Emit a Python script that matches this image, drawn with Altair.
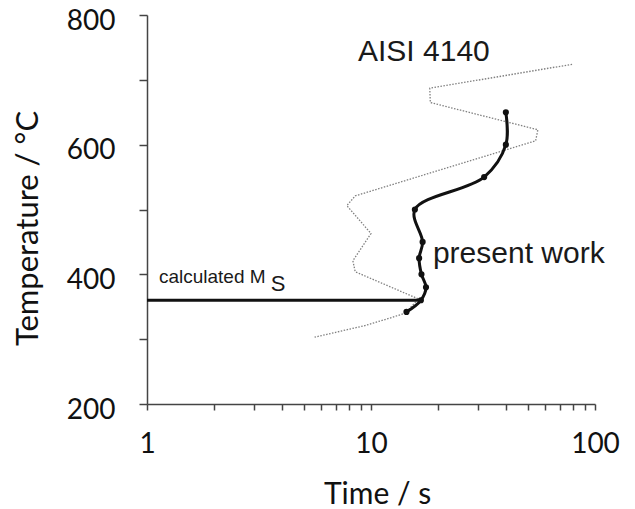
import altair as alt
import pandas as pd

# ---- data ----
pw_time = [40, 40, 32, 15.7, 17, 16.4, 16.8, 17.6, 16.7, 14.4]
pw_temp = [650, 600, 550, 500, 450, 425, 400, 380, 360, 342]

aisi_time = [79, 18.3, 18.4, 55.6, 54.3, 8.5, 7.8, 10.0, 8.3, 8.5, 16.3, 14.2, 12.0, 9.4, 5.6]
aisi_temp = [724, 687, 665, 623, 606, 521, 506, 463, 421, 404, 362, 340, 332, 321, 303]

ms_temp = 360
ms_time = [1, 16.7]

x_ticks = [1, 2, 3, 4, 5, 6, 7, 8, 9, 10, 20, 30, 40, 50, 60, 70, 80, 90, 100]
y_ticks = [200, 300, 400, 500, 600, 700, 800]

ann_text = ["AISI 4140", "present work", "calculated M", "S"]
ann_time = [8.75, 18.9, 1.13, 3.57]
ann_temp = [729, 418, 386, 374]
ann_size = [30, 30, 19, 22]

pw = pd.DataFrame({"time": pw_time, "temp": pw_temp, "i": list(range(len(pw_time)))})
aisi = pd.DataFrame({"time": aisi_time, "temp": aisi_temp, "i": list(range(len(aisi_time)))})
ms = pd.DataFrame({"t1": [ms_time[0]], "t2": [ms_time[1]], "temp": [ms_temp]})
ann = pd.DataFrame({"label": ann_text, "time": ann_time, "temp": ann_temp, "size": ann_size})

xs = alt.Scale(type="log", domain=[1, 100])
ys = alt.Scale(domain=[200, 800], nice=False, zero=False)

axis_font = "Lato"
xaxis = alt.Axis(
    values=x_ticks,
    labelExpr="(datum.value == 1 || datum.value == 10 || datum.value == 100) ? datum.value : ''",
    title="Time / s", titleX=230, titleY=99, titleAlign="center", titleBaseline="alphabetic",
    tickSize=6, labelPadding=20, labelFontSize=28, titleFontSize=30,
    labelFont=axis_font, titleFont=axis_font, labelColor="#111", titleColor="#111",
    titleFontWeight="normal", domainColor="#444", tickColor="#444", domainWidth=1.5, tickWidth=1.5,
    grid=False, labelFlush=False, labelOverlap=False,
)
yaxis = alt.Axis(
    values=y_ticks,
    labelExpr="datum.value % 200 == 0 ? datum.value : ''",
    title="Temperature / °C", titleX=-110, titleY=213, titleAngle=270, titleAlign="center",
    titleBaseline="alphabetic",
    tickSize=8, labelPadding=24, labelFontSize=28, titleFontSize=31,
    labelBaseline="alphabetic", labelOffset=14,
    labelFont=axis_font, titleFont=axis_font, labelColor="#111", titleColor="#111",
    titleFontWeight="normal", domainColor="#444", tickColor="#444", domainWidth=1.5, tickWidth=1.5,
    grid=False, labelFlush=False, labelOverlap=False,
)

aisi_line = alt.Chart(aisi).mark_line(
    color="#808080", strokeWidth=1.3, strokeDash=[1.5, 1.5]
).encode(
    x=alt.X("time:Q", scale=xs, axis=xaxis),
    y=alt.Y("temp:Q", scale=ys, axis=yaxis),
    order="i:Q",
)

ms_rule = alt.Chart(ms).mark_rule(color="#111", strokeWidth=3).encode(
    x=alt.X("t1:Q", scale=xs),
    x2="t2:Q",
    y=alt.Y("temp:Q", scale=ys),
)

pw_line = alt.Chart(pw).mark_line(
    color="#111", strokeWidth=3, interpolate="catmull-rom"
).encode(
    x=alt.X("time:Q", scale=xs),
    y=alt.Y("temp:Q", scale=ys),
    order="i:Q",
)

pw_pts = alt.Chart(pw).mark_circle(color="#111", opacity=1, size=38).encode(
    x=alt.X("time:Q", scale=xs),
    y=alt.Y("temp:Q", scale=ys),
)

texts = alt.Chart(ann).mark_text(
    align="left", baseline="alphabetic", font="Liberation Sans", color="#1a1a1a"
).encode(
    x=alt.X("time:Q", scale=xs),
    y=alt.Y("temp:Q", scale=ys),
    text="label:N",
    size=alt.Size("size:Q", scale=None),
)

chart = alt.layer(aisi_line, ms_rule, pw_line, pw_pts, texts).properties(
    width=448, height=389,
    autosize=alt.AutoSizeParams(type="none"),
    padding={"left": 139, "top": 7, "right": 32, "bottom": 105},
).configure(background="white").configure_view(stroke=None)

chart.save("out.html", embed_options={"renderer": "svg", "actions": False})
